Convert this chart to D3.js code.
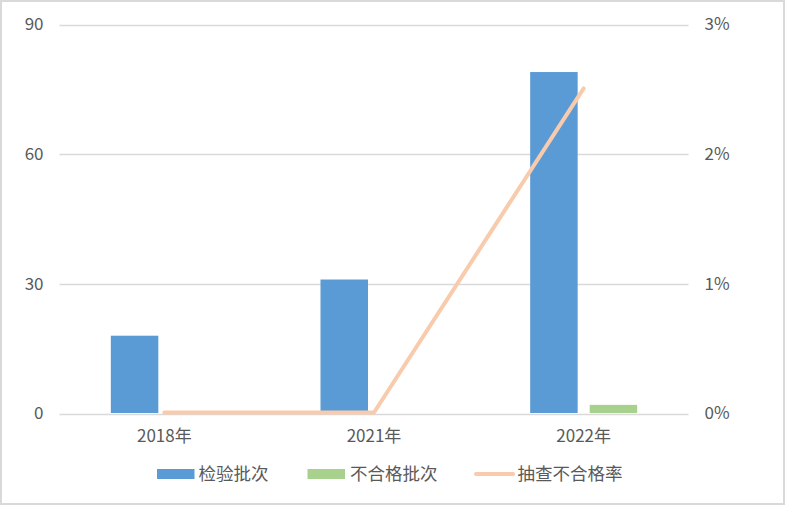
<!DOCTYPE html>
<html><head><meta charset="utf-8">
<script src="https://cdn.jsdelivr.net/npm/d3@7"></script>
<style>html,body{margin:0;padding:0;background:#fff;}svg{display:block;}</style>
</head><body>
<script>
const categories = ["2018年", "2021年", "2022年"];
const inspected = [18, 31, 79];        // 检验批次
const failed = [0, 0, 2];              // 不合格批次
const failRate = [0, 0, 0.025];        // 抽查不合格率
const leftTicks = [0, 30, 60, 90];
const rightTicks = [0, 0.01, 0.02, 0.03];
const seriesNames = ["检验批次", "不合格批次", "抽查不合格率"];

const W = 785, H = 505;
const font = "'Noto Sans CJK SC', 'Noto Sans', sans-serif";
const textColor = "#595959";
const fs = "17px";
const svg = d3.select("body").append("svg").attr("width", W).attr("height", H);

svg.append("rect").attr("x", 1).attr("y", 1).attr("width", W - 2).attr("height", H - 2)
  .attr("fill", "#fff").attr("stroke", "#d9d9d9").attr("stroke-width", 2);

const plot = {l: 59.5, r: 688.5, t: 24.5, b: 413.5};
const x = d3.scaleBand().domain(categories).range([plot.l, plot.r]);
const y = d3.scaleLinear().domain([0, 90]).range([plot.b, plot.t]);
const y2 = d3.scaleLinear().domain([0, 0.03]).range([plot.b, plot.t]);

// gridlines
svg.append("g").selectAll("line").data(leftTicks).join("line")
  .attr("x1", plot.l).attr("x2", plot.r)
  .attr("y1", d => Math.round(y(d)) + 0.5).attr("y2", d => Math.round(y(d)) + 0.5)
  .attr("stroke", "#d9d9d9").attr("stroke-width", 1.3);

// left axis labels
const leftAxis = d3.axisLeft(y).tickValues(leftTicks).tickSize(0).tickPadding(0);
const gl = svg.append("g").attr("transform", `translate(${43.5},0)`).call(leftAxis);
gl.select(".domain").remove();
gl.selectAll("text").attr("fill", textColor).style("font-family", font).style("font-size", fs);

const rightAxis = d3.axisRight(y2).tickValues(rightTicks).tickFormat(d3.format(".0%")).tickSize(0).tickPadding(0);
const gr = svg.append("g").attr("transform", `translate(${704.5},0)`).call(rightAxis);
gr.select(".domain").remove();
gr.selectAll("text").attr("fill", textColor).style("font-family", font).style("font-size", fs);

// category labels
const gx = svg.append("g").attr("transform", `translate(0,${plot.b})`)
  .call(d3.axisBottom(x).tickSize(0).tickPadding(16));
gx.select(".domain").remove();
gx.selectAll("text").attr("fill", textColor).style("font-family", font).style("font-size", fs);

// bars
const barW = 47.5, gap = 12;
const sub = d3.scaleOrdinal().domain([0, 1]).range([-(gap / 2 + barW), gap / 2]);
const colors = ["#5b9bd5", "#a9d18e"];
[inspected, failed].forEach((vals, si) => {
  svg.append("g").selectAll("rect").data(vals).join("rect")
    .attr("x", (d, i) => x(categories[i]) + x.bandwidth() / 2 + sub(si))
    .attr("width", barW)
    .attr("y", d => y(d))
    .attr("height", d => plot.b - 0.5 - y(d) > 0 ? plot.b - 0.5 - y(d) : 0)
    .attr("fill", colors[si]);
});

// line
const line = d3.line().x((d, i) => x(categories[i]) + x.bandwidth() / 2).y(d => y2(d) - 1);
svg.append("path").datum(failRate).attr("d", line)
  .attr("fill", "none").attr("stroke", "#f8cbad").attr("stroke-width", 4)
  .attr("stroke-linecap", "round").attr("stroke-linejoin", "round");

// legend
const legY = 474;
const leg = [
  {name: seriesNames[0], x: 157, type: "rect", color: colors[0], tx: 198.5},
  {name: seriesNames[1], x: 307.5, type: "rect", color: colors[1], tx: 350},
  {name: seriesNames[2], x: 474, type: "line", color: "#f8cbad", tx: 517.5}
];
leg.forEach(d => {
  if (d.type === "rect") {
    svg.append("rect").attr("x", d.x).attr("y", legY - 5).attr("width", 37.5).attr("height", 10).attr("fill", d.color);
  } else {
    svg.append("line").attr("x1", d.x + 2).attr("x2", d.x + 39).attr("y1", legY).attr("y2", legY)
      .attr("stroke", d.color).attr("stroke-width", 4).attr("stroke-linecap", "round");
  }
  svg.append("text").attr("x", d.tx).attr("y", legY).attr("dy", "0.35em")
    .attr("fill", textColor).style("font-family", font).style("font-size", "17.5px").text(d.name);
});
</script>
</body></html>
